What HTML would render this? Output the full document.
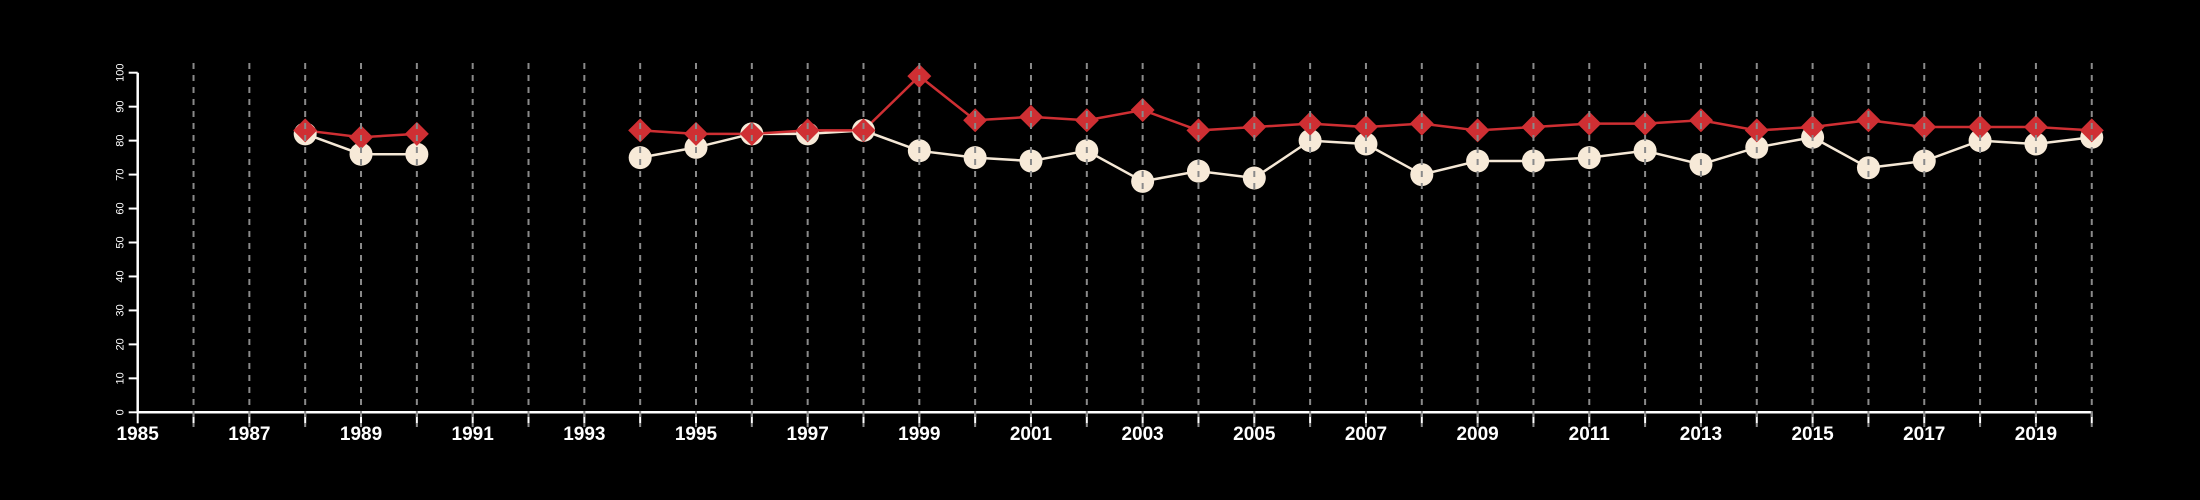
<!DOCTYPE html>
<html><head><meta charset="utf-8"><style>
html,body{margin:0;padding:0;background:#000;width:2200px;height:500px;overflow:hidden}
svg{display:block}
</style></head><body>
<svg id="chart" width="2200" height="500" xmlns="http://www.w3.org/2000/svg">
<rect width="2200" height="500" fill="#000"/>
</svg>
<script>
const years = [1988,1989,1990,1994,1995,1996,1997,1998,1999,2000,2001,2002,2003,2004,2005,2006,2007,2008,2009,2010,2011,2012,2013,2014,2015,2016,2017,2018,2019,2020];
const whiteSeries = [82,76,76,75,78,82,82,83,77,75,74,77,68,71,69,80,79,70,74,74,75,77,73,78,81,72,74,80,79,81];
const redSeries = [83,81,82,83,82,82,83,83,99,86,87,86,89,83,84,85,84,85,83,84,85,85,86,83,84,86,84,84,84,83];
const yTicks = [0,10,20,30,40,50,60,70,80,90,100];
const xLabels = [1985,1987,1989,1991,1993,1995,1997,1999,2001,2003,2005,2007,2009,2011,2013,2015,2017,2019];

const NS = "http://www.w3.org/2000/svg";
const svg = document.getElementById('chart');
const x = yr => 137.7 + (yr - 1985) * 55.83;
const y = v => 412.3 - v * 3.396;
function mk(tag, attrs, parent) {
  const e = document.createElementNS(NS, tag);
  for (const k in attrs) e.setAttribute(k, attrs[k]);
  (parent || svg).appendChild(e);
  return e;
}
// axes
const yAxis = mk('line', {x1:x(1985), x2:x(1985), y1:y(0), y2:y(100), stroke:'#fff', 'stroke-width':2.5});


const xAxis = mk('line', {x1:x(1985), x2:x(2020), y1:y(0), y2:y(0), stroke:'#fff', 'stroke-width':2.5});


yTicks.forEach(t => {
  const tk = mk('line', {x1:x(1985)-9, x2:x(1985), y1:y(t), y2:y(t), stroke:'#fff', 'stroke-width':2});
  
  
  const tx = mk('text', {x:0, y:0, fill:'#fff', 'font-size':11, 'font-family':'Liberation Sans, sans-serif', 'text-anchor':'middle', transform:`translate(${x(1985)-17},${y(t)}) rotate(-90)`, 'dominant-baseline':'central'});
  tx.textContent = t;
  
  
});
for (let yr = 1985; yr <= 2020; yr++) {
  const tk = mk('line', {x1:x(yr), x2:x(yr), y1:y(0), y2:y(0)+11, stroke:'#fff', 'stroke-width':2});
  
  
}
xLabels.forEach(l => {
  const tx = mk('text', {x:x(l), y:440, fill:'#fff', 'font-size':19, 'font-weight':'bold', 'font-family':'Liberation Sans, sans-serif', 'text-anchor':'middle'});
  tx.textContent = l;
  
  
});
// series lines (break at gaps)
function drawLine(vals, color, name) {
  let seg = [];
  const segs = [];
  years.forEach((yr, i) => {
    if (i > 0 && yr - years[i-1] > 1) { segs.push(seg); seg = []; }
    seg.push(x(yr) + ',' + y(vals[i]));
  });
  segs.push(seg);
  segs.forEach(s => {
    const p = mk('polyline', {points:s.join(' '), fill:'none', stroke:color, 'stroke-width':2.5});
    
    
  });
}
drawLine(whiteSeries, '#f5e8d6', 'white-series-line');
drawLine(redSeries, '#cf2f33', 'red-series-line');
years.forEach((yr, i) => {
  const c = mk('circle', {cx:x(yr), cy:y(whiteSeries[i]), r:11.5, fill:'#f7ead8'});
  
  
});
years.forEach((yr, i) => {
  const cx = x(yr), cy = y(redSeries[i]), d = 12;
  const p = mk('polygon', {points:`${cx},${cy-d} ${cx+d},${cy} ${cx},${cy+d} ${cx-d},${cy}`, fill:'#cf2f33'});
  
  
});
// dashed gridlines on top
for (let yr = 1986; yr <= 2020; yr++) {
  const g = mk('line', {x1:x(yr), x2:x(yr), y1:63, y2:427, stroke:'#8a8a8a', 'stroke-width':2, 'stroke-dasharray':'6,6'});
  
  
}
</script>
</body></html>
